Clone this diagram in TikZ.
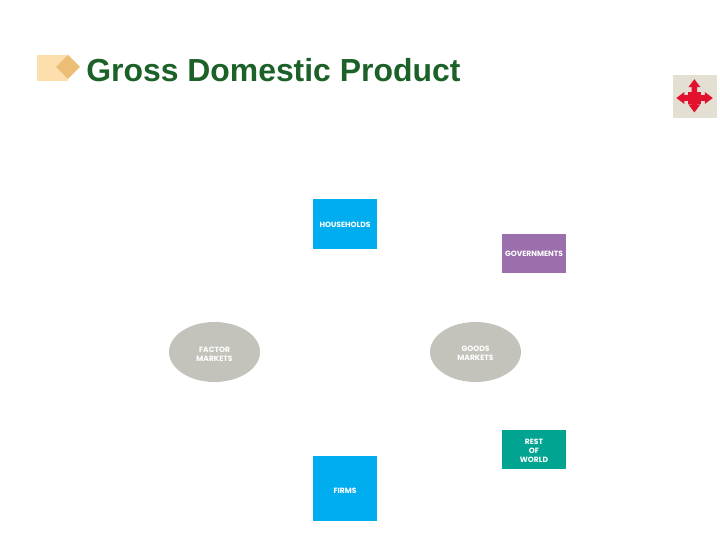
\documentclass[tikz,border=0pt]{standalone}
\usepackage{fontspec}
\setmainfont{Liberation Sans}
\newfontfamily\labelfont{Poppins}
\usetikzlibrary{shapes.geometric}
\definecolor{titlegreen}{HTML}{1B6128}
\definecolor{logolight}{HTML}{FCDFAC}
\definecolor{logodark}{HTML}{EBBD75}
\definecolor{sectorblue}{HTML}{00AEEF}
\definecolor{sectorpurple}{HTML}{9A6FAB}
\definecolor{sectorgreen}{HTML}{00A491}
\definecolor{marketgrey}{HTML}{C4C3BB}
\definecolor{iconbeige}{HTML}{E3DFD3}
\definecolor{iconred}{HTML}{E2122E}
\tikzset{
    sectorbox/.style={rectangle,minimum width=1.6cm,inner sep=0pt},
    marketnode/.style={ellipse,fill=marketgrey,minimum width=2.275cm,minimum height=1.5cm,inner sep=0pt},
    nametext/.style={inner sep=0pt,align=center,text=white,font=\labelfont\bfseries\fontsize{5.4}{6.3}\selectfont}
}
\begin{document}
\begin{tikzpicture}
                \useasboundingbox (0,0) rectangle (18,13.5);
                % title with logo
                \fill[logolight] (0.925,11.475) rectangle (1.7,12.125);
                \fill[logodark] (1.4,11.825) -- (1.7,12.125) -- (2,11.825) -- (1.7,11.525) -- cycle;
                \node[anchor=base west,inner sep=0pt,text=titlegreen,font=\bfseries\fontsize{22.7}{27}\selectfont] (title) at (2.15,11.46) {Gross Domestic Product};

                % move icon
                \fill[iconbeige] (16.825,10.55) rectangle (17.925,11.625);
                \fill[iconred] (17.2,10.9) rectangle (17.52,11.2);
                \foreach \ang/\len in {0/0.46,90/0.47,180/0.45,270/0.36}{
                    \fill[iconred,shift={(17.36,11.05)},rotate=\ang] (0.1,-0.07) -- (\len-0.2,-0.07) -- (\len-0.2,-0.15) -- (\len,0) -- (\len-0.2,0.15) -- (\len-0.2,0.07) -- (0.1,0.07) -- cycle;
                }

                % sectors
                \node[sectorbox,fill=sectorblue,minimum height=1.25cm] (households) at (8.625,7.9) {};
                \node[sectorbox,fill=sectorpurple,minimum height=0.975cm] (governments) at (13.35,7.1625) {};
                \node[sectorbox,fill=sectorgreen,minimum height=0.975cm] (world) at (13.35,2.2625) {};
                \node[sectorbox,fill=sectorblue,minimum height=1.625cm] (firms) at (8.625,1.2875) {};
                \node[nametext] (householdsname) at ([yshift=-0.7pt]households) {HOUSEHOLDS};
                \node[nametext] (governmentsname) at ([yshift=-0.5pt]governments) {GOVERNMENTS};
                \node[nametext] (worldname) at ([yshift=-0.7pt]world) {REST\\OF\\WORLD};
                \node[nametext] (firmsname) at ([yshift=-1.4pt]firms) {FIRMS};

                % markets
                \node[marketnode] (factor) at (5.3625,4.7) {};
                \node[marketnode] (goods) at (11.8875,4.7) {};
                \node[nametext] (factorname) at ([yshift=-1.8pt]factor) {FACTOR\\MARKETS};
                \node[nametext] (goodsname) at ([yshift=-0.7pt]goods) {GOODS\\MARKETS};
            \end{tikzpicture}
\end{document}
